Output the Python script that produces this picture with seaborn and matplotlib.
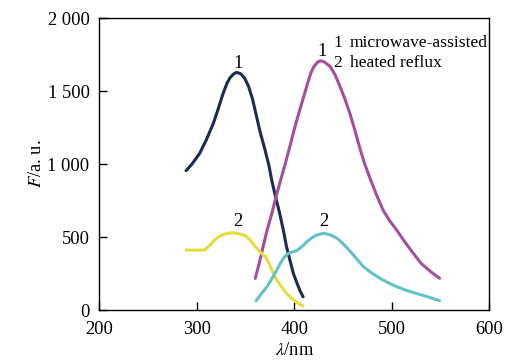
import pandas as pd
import matplotlib
matplotlib.use("Agg")
import matplotlib.pyplot as plt
import matplotlib.ticker as mticker
import seaborn as sns

# curva 1 (microwave-assisted), azul oscuro
wl_mw_a = [289, 295, 303, 310, 317, 322, 327, 331, 334, 338, 341, 345, 349, 353, 357, 361,
           365, 370, 374, 377, 381, 385, 389, 392, 396, 399, 403, 406, 409]
f_mw_a = [955, 1000, 1074, 1170, 1280, 1380, 1485, 1555, 1592, 1620, 1629, 1620, 1590, 1535,
          1450, 1335, 1220, 1097, 990, 885, 770, 663, 540, 434, 330, 251, 180, 130, 91]

# curva 1 (microwave-assisted), magenta
wl_mw_b = [360, 364, 368, 372, 377, 381, 385, 390, 396, 401, 406, 410, 413, 417, 420, 424,
           427, 431, 437, 442, 447, 452, 457, 462, 467, 472, 478, 484, 491, 498, 505, 513,
           522, 530, 540, 549]
f_mw_b = [217, 320, 434, 545, 663, 770, 868, 985, 1135, 1265, 1380, 1470, 1540, 1625, 1668,
          1700, 1709, 1700, 1668, 1610, 1531, 1445, 1348, 1235, 1115, 1005, 897, 795, 685,
          610, 548, 470, 389, 320, 262, 217]

# curva 2 (heated reflux), amarillo
wl_hr_a = [289, 300, 308, 313, 318, 323, 329, 336, 342, 347, 351, 356, 360, 363, 367, 371,
           374, 378, 382, 387, 392, 397, 403, 409]
f_hr_a = [411, 411, 411, 440, 478, 505, 522, 530, 525, 515, 503, 470, 435, 411, 385, 360,
          320, 260, 206, 158, 114, 80, 50, 27]

# curva 2 (heated reflux), cian
wl_hr_b = [361, 366, 372, 377, 382, 386, 390, 394, 398, 402, 407, 413, 418, 423, 430, 437,
           444, 450, 457, 464, 471, 479, 488, 496, 505, 515, 525, 537, 549]
f_hr_b = [64, 110, 160, 215, 274, 325, 365, 388, 398, 406, 430, 468, 495, 514, 526, 515,
          491, 455, 405, 350, 297, 255, 217, 188, 160, 135, 114, 90, 64]

colores = {"a": "#1d2b52", "b": "#a2509c", "c": "#e3dd3f", "d": "#63c3c4"}

sns.set_theme(style="white")
plt.rcParams["font.family"] = ["Liberation Serif", "DejaVu Serif"]
plt.rcParams["mathtext.fontset"] = "stix"
for k in ["text.color", "axes.labelcolor", "xtick.color", "ytick.color"]:
    plt.rcParams[k] = "black"

df = pd.concat([
    pd.DataFrame({"wl": wl_mw_a, "F": f_mw_a, "serie": "a"}),
    pd.DataFrame({"wl": wl_mw_b, "F": f_mw_b, "serie": "b"}),
    pd.DataFrame({"wl": wl_hr_a, "F": f_hr_a, "serie": "c"}),
    pd.DataFrame({"wl": wl_hr_b, "F": f_hr_b, "serie": "d"}),
])

fs = 13.3
fs_leg = 12.6
fig = plt.figure(figsize=(5.19, 3.63), dpi=100)
ax = fig.add_axes([0.1913, 0.146, 0.7515, 0.8036])

sns.lineplot(data=df, x="wl", y="F", hue="serie", palette=colores, ax=ax,
             lw=2.2, legend=False, sort=False, estimator=None)

ax.set_xlim(200, 600)
ax.set_ylim(0, 2000)
ax.set_xticks([200, 300, 400, 500, 600])
ax.set_yticks([0, 500, 1000, 1500, 2000])
ax.yaxis.set_major_formatter(mticker.FuncFormatter(lambda v, p: f"{int(v):,}".replace(",", " ")))
ax.tick_params(direction="in", length=6, width=1, labelsize=fs, color="black",
               top=False, right=False, left=True, bottom=True)
ax.tick_params(axis="x", pad=8)
ax.tick_params(axis="y", pad=7)
for sp in ax.spines.values():
    sp.set_color("black")
    sp.set_linewidth(1.0)

ax.set_xlabel(r"$\lambda$/nm", fontsize=fs, labelpad=3)
ax.set_ylabel(r"$F$/a. u.", fontsize=fs, labelpad=2)

ax.text(342, 1693, "1", fontsize=fs, ha="center", va="center")
ax.text(428, 1775, "1", fontsize=fs, ha="center", va="center")
ax.text(342.5, 605, "2", fontsize=fs, ha="center", va="center")
ax.text(430, 610, "2", fontsize=fs, ha="center", va="center")
ax.text(444.5, 1834, "1", fontsize=fs_leg, ha="center", va="center")
ax.text(457, 1834, "microwave-assisted", fontsize=fs_leg, ha="left", va="center")
ax.text(444.5, 1696, "2", fontsize=fs_leg, ha="center", va="center")
ax.text(457, 1696, "heated reflux", fontsize=fs_leg, ha="left", va="center")

fig.savefig("out.png", dpi=100)
